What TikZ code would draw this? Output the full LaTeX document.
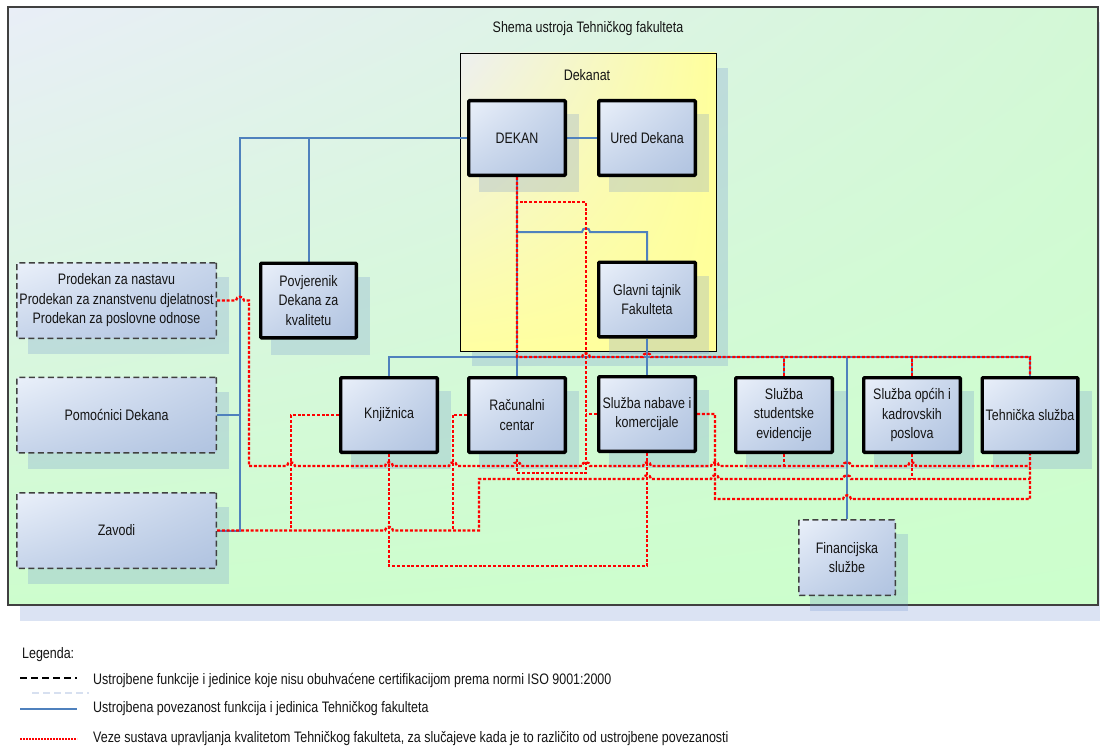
\documentclass[tikz,border=0pt]{standalone}
\usepackage{fontspec}
\setmainfont[FakeStretch=0.82]{Liberation Sans}
\usetikzlibrary{shadings}
\definecolor{blu}{HTML}{4F81BD}
\definecolor{shadowc}{RGB}{106,140,208}
\definecolor{frm}{HTML}{404040}
\definecolor{txtc}{HTML}{141414}
\definecolor{boxA}{HTML}{EAF0FA}
\definecolor{boxM}{HTML}{C6D4EA}
\definecolor{boxB}{HTML}{B0C3E0}
\definecolor{bgUL}{HTML}{E9EEF7}
\definecolor{bgUR}{HTML}{D3F8D6}
\definecolor{bgLL}{HTML}{CDFDCD}
\definecolor{bgLR}{HTML}{CCFFCC}
\definecolor{dkUL}{HTML}{EDEFF0}
\definecolor{dkUR}{HTML}{FFFF9C}
\definecolor{dkLL}{HTML}{FFFFA2}
\definecolor{dkLR}{HTML}{FFFF99}
\definecolor{legsh}{RGB}{215,224,240}
\pgfdeclarelayer{bg}
\pgfdeclarelayer{shad}
\pgfdeclarelayer{lns}
\pgfsetlayers{bg,shad,lns,main}
\begin{document}
\begin{tikzpicture}[x=1pt,y=-1pt,
  lbl/.style={font=\fontsize{15.2}{19.5}\selectfont, text=txtc, align=center, inner sep=0pt},
  boxbase/.style={lbl, rectangle, rounded corners=0.8pt,
    upper left=boxA, upper right=boxM, lower left=boxM, lower right=boxB,
    minimum width=96.7, minimum height=74.7},
  sbox/.style={boxbase, draw=black, line width=3.3pt},
  dbox/.style={boxbase, draw=frm, line width=1.5pt, dash pattern=on 6pt off 3.5pt,
    minimum width=199.5, minimum height=75.5},
  blue line/.style={draw=blu, line width=2pt},
  red line/.style={draw=red, line width=2.3pt, dash pattern=on 3pt off 1.8pt},
  shadowfill/.style={fill=shadowc, fill opacity=0.24}
]
\useasboundingbox (0,0) rectangle (1100,749);

% ---------- background ----------
\begin{pgfonlayer}{bg}
  \fill[white] (0,0) rectangle (1100,749);
  \fill[shadowfill] (20,22) rectangle (1112,621);
  \node[draw=frm, line width=1.4pt, rectangle, inner sep=0pt, outer sep=0pt,
    upper left=bgUL, upper right=bgUR, lower left=bgLL, lower right=bgLR,
    minimum width=1090, minimum height=598] (frame) at (553,306) {};
  \node[lbl] (title) at (588,29) {Shema ustroja Tehničkog fakulteta};
  \fill[shadowfill] (472,68) rectangle (728,366);
  \node[draw=black, line width=0.9pt, rectangle, inner sep=0pt,
    upper left=dkUL, upper right=dkUR, lower left=dkLL, lower right=dkLR,
    minimum width=256, minimum height=298] (dekanat) at (588,202) {};
  \node[lbl] (dektitle) at (587,75) {Dekanat};
\end{pgfonlayer}

% ---------- boxes ----------
\node[dbox] (prod) at (116.5,300.5) {Prodekan za nastavu\\Prodekan za znanstvenu djelatnost\\Prodekan za poslovne odnose};
\node[dbox] (pom)  at (116.5,415) {Pomoćnici Dekana};
\node[dbox] (zav)  at (116.5,530.5) {Zavodi};
\node[sbox, minimum width=95.7] (povj) at (308.5,300.5) {Povjerenik\\Dekana za\\kvalitetu};
\node[sbox] (dekan)  at (517,138) {DEKAN};
\node[sbox] (ured)   at (647,138) {Ured Dekana};
\node[sbox] (glavni) at (647,299.5) {Glavni tajnik\\Fakulteta};
\node[sbox] (knj)    at (389,415) {Knjižnica};
\node[sbox] (rac)    at (517,415) {Računalni\\centar};
\node[sbox] (nab)    at (647,414) {Služba nabave i\\komercijale};
\node[sbox] (stud)   at (784,415) {Služba\\studentske\\evidencije};
\node[sbox] (opc)    at (912,415) {Služba općih i\\kadrovskih\\poslova};
\node[sbox, minimum width=95.7] (teh) at (1030,415) {Tehnička služba};
\node[dbox, minimum width=96.5, minimum height=75.5] (fin) at (847,557.5) {Financijska\\službe};

% ---------- shadows ----------
\begin{pgfonlayer}{shad}
\foreach \n in {prod,pom,zav,povj,dekan,ured,glavni,knj,rac,nab,stud,opc,teh,fin}
  \fill[shadowfill] ([xshift=12pt,yshift=-15pt]\n.north west) rectangle ([xshift=12pt,yshift=-15pt]\n.south east);
\end{pgfonlayer}

% ---------- connectors ----------
\begin{pgfonlayer}{lns}
% blue
\draw[blue line] (dekan.west) -- (240,138) -- (240,530.5) -- (zav.east);
\draw[blue line] (povj.north) -- (308.5,138);
\draw[blue line] (pom.east) -- (240,415);
\draw[blue line] (dekan.east) -- (ured.west);
\draw[blue line] (dekan.south) -- (rac.north);
\draw[blue line] (517,232) -- (582,232) .. controls (582,227) and (590,227) .. (590,232) -- (647,232) -- (glavni.north);
\draw[blue line] (glavni.south) -- (nab.north);
\draw[blue line] (knj.north) -- (389,357) -- (1030,357) -- (teh.north);
\draw[blue line] (stud.north) -- (784,357);
\draw[blue line] (opc.north) -- (912,357);
\draw[blue line] (fin.north) -- (847,357);
% red
\draw[red line] (dekan.south) -- (517,357) -- (582,357) .. controls (582,352) and (590,352) .. (590,357)
  -- (643,357) .. controls (643,352) and (651,352) .. (651,357) -- (1030,357) -- (teh.north);
\draw[red line] (stud.north) -- (784,357);
\draw[red line] (opc.north) -- (912,357);
\draw[red line] (rac.south) -- (517,473) -- (586,473) -- (586,202) -- (517,202);
\draw[red line] (nab.west) -- (586,414);
\draw[red line] (prod.east) -- (236,300.5) .. controls (236,295.5) and (244,295.5) .. (244,300.5) -- (249,300.5) -- (249,466)
  -- (287,466) .. controls (287,461) and (295,461) .. (295,466)
  -- (385,466) .. controls (385,461) and (393,461) .. (393,466)
  -- (449,466) .. controls (449,461) and (457,461) .. (457,466)
  -- (513,466) .. controls (513,461) and (521,461) .. (521,466)
  -- (582,466) .. controls (582,461) and (590,461) .. (590,466)
  -- (643,466) .. controls (643,461) and (651,461) .. (651,466)
  -- (711,466) .. controls (711,461) and (719,461) .. (719,466)
  -- (843,466) .. controls (843,461) and (851,461) .. (851,466)
  -- (908,466) .. controls (908,461) and (916,461) .. (916,466)
  -- (1030,466);
\draw[red line] (knj.west) -- (291,415) -- (291,530.5);
\draw[red line] (rac.west) -- (453,415) -- (453,530.5);
\draw[red line] (zav.east) -- (385,530.5) .. controls (385,525.5) and (393,525.5) .. (393,530.5)
  -- (479,530.5) -- (479,479)
  -- (643,479) .. controls (643,474) and (651,474) .. (651,479)
  -- (711,479) .. controls (711,474) and (719,474) .. (719,479)
  -- (843,479) .. controls (843,474) and (851,474) .. (851,479)
  -- (1030,479);
\draw[red line] (knj.south) -- (389,566) -- (647,566) -- (nab.south);
\draw[red line] (nab.east) -- (715,414) -- (715,499)
  -- (843,499) .. controls (843,494) and (851,494) .. (851,499)
  -- (1030,499) -- (teh.south);
\draw[red line] (stud.south) -- (784,466);
\draw[red line] (opc.south) -- (912,479);
\end{pgfonlayer}

% ---------- legend ----------
\node[lbl, anchor=west] (leg) at (22,655) {Legenda:};
\coordinate (l1a) at (20,678); \coordinate (l1b) at (77,678);
\coordinate (l1c) at (32,693); \coordinate (l1d) at (89,693);
\coordinate (l2a) at (20,709); \coordinate (l2b) at (77,709);
\coordinate (l3a) at (20,739); \coordinate (l3b) at (77,739);
\draw[legsh, line width=1.2pt, dash pattern=on 7pt off 4pt] (l1c) -- (l1d);
\draw[black, line width=1.2pt, dash pattern=on 7pt off 4pt] (l1a) -- (l1b);
\draw[blu, line width=2pt] (l2a) -- (l2b);
\draw[red, line width=2pt, dash pattern=on 1.8pt off 1.2pt] (l3a) -- (l3b);
\node[lbl, anchor=west] (leg1) at (93,680) {Ustrojbene funkcije i jedinice koje nisu obuhvaćene certifikacijom prema normi ISO 9001:2000};
\node[lbl, anchor=west] (leg2) at (93,709) {Ustrojbena povezanost funkcija i jedinica Tehničkog fakulteta};
\node[lbl, anchor=west] (leg3) at (93,739) {Veze sustava upravljanja kvalitetom Tehničkog fakulteta, za slučajeve kada je to različito od ustrojbene povezanosti};
\end{tikzpicture}
\end{document}
